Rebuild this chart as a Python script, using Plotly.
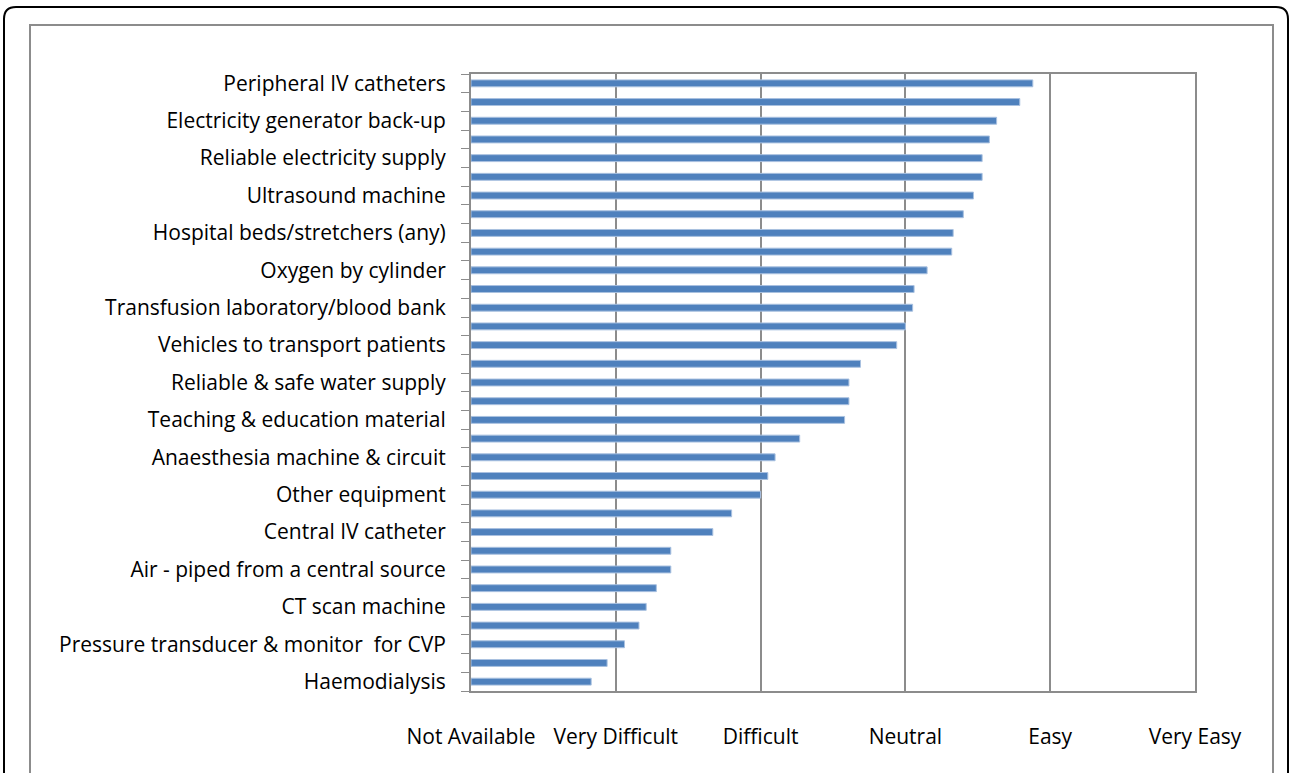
import plotly.graph_objects as go

# ---------------- data ----------------
labels = [
    "Peripheral IV catheters", "",
    "Electricity generator back-up", "",
    "Reliable electricity supply", "",
    "Ultrasound machine", "",
    "Hospital beds/stretchers (any)", "",
    "Oxygen by cylinder", "",
    "Transfusion laboratory/blood bank", "",
    "Vehicles to transport patients", "",
    "Reliable & safe water supply", "",
    "Teaching & education material", "",
    "Anaesthesia machine & circuit", "",
    "Other equipment", "",
    "Central IV catheter", "",
    "Air - piped from a central source", "",
    "CT scan machine", "",
    "Pressure transducer & monitor  for CVP", "",
    "Haemodialysis",
]
values = [
    3.88, 3.79, 3.63, 3.58, 3.53, 3.53, 3.47, 3.40, 3.33, 3.32,
    3.15, 3.06, 3.05, 3.00, 2.94, 2.69, 2.61, 2.61, 2.58, 2.27,
    2.10, 2.05, 2.00, 1.80, 1.67, 1.38, 1.38, 1.28, 1.21, 1.16,
    1.06, 0.94, 0.83,
]
scale_labels = ["Not Available", "Very Difficult", "Difficult", "Neutral", "Easy", "Very Easy"]

# ---------------- layout geometry ----------------
W, H = 1290, 773
PL, PR, PT, PB = 471, 1195, 74, 691  # plot area in pixels


def px(x):
    return (x - PL) / (PR - PL)


def py(y):
    return (PB - y) / (PB - PT)


n = len(values)
ypos = list(range(n))
label_pos = [i for i, t in enumerate(labels) if t]
label_txt = [labels[i] for i in label_pos]

FONT = "'Open Sans', Lato, sans-serif"
FS = 21
GRID = "#8c8c8c"

fig = go.Figure(
    go.Bar(
        x=values,
        y=ypos,
        orientation="h",
        width=0.37,
        marker=dict(color="#4F81BD", line=dict(color="#a9c1e0", width=1)),
        hoverinfo="x",
    )
)

fig.update_xaxes(
    range=[0, 5],
    tickmode="array",
    tickvals=list(range(len(scale_labels))),
    ticktext=scale_labels,
    ticks="",
    ticklabelstandoff=26,
    showgrid=True,
    gridcolor=GRID,
    gridwidth=2,
    showline=True,
    linecolor=GRID,
    linewidth=2,
    mirror=True,
    zeroline=False,
    tickfont=dict(family=FONT, size=FS, color="#000000"),
)

fig.update_yaxes(
    range=[n - 0.5, -0.5],
    tickmode="array",
    tickvals=label_pos,
    ticktext=label_txt,
    ticks="",
    ticklabelstandoff=19,
    showgrid=False,
    showline=True,
    linecolor=GRID,
    linewidth=2,
    mirror=True,
    zeroline=False,
    tickfont=dict(family=FONT, size=FS, color="#000000"),
    minor=dict(
        tickmode="array",
        tickvals=[i - 0.5 for i in range(n + 1)],
        ticks="outside",
        ticklen=8,
        tickwidth=1,
        tickcolor=GRID,
    ),
)

# decorative frames (inner chart-area box and outer rounded panel)
r = 12
outer = (
    f"M {px(4)} {py(820)} L {px(4)} {py(7 + r)} "
    f"Q {px(4)} {py(7)} {px(4 + r)} {py(7)} "
    f"L {px(1288 - r)} {py(7)} "
    f"Q {px(1288)} {py(7)} {px(1288)} {py(7 + r)} "
    f"L {px(1288)} {py(820)}"
)
fig.add_shape(type="path", path=outer, xref="paper", yref="paper",
              line=dict(color="#000000", width=2))
fig.add_shape(type="rect", xref="paper", yref="paper",
              x0=px(30), x1=px(1273), y0=py(820), y1=py(25),
              line=dict(color=GRID, width=2))

fig.update_layout(
    width=W,
    height=H,
    margin=dict(l=PL, r=W - PR, t=PT, b=H - PB, autoexpand=False),
    paper_bgcolor="white",
    plot_bgcolor="white",
    showlegend=False,
    bargap=0.63,
    font=dict(family=FONT, size=FS, color="#000000"),
)

fig.write_html(
    "out.html",
    config={"displayModeBar": False},
    post_script="document.body.style.margin='0';document.body.style.overflow='hidden';",
)
